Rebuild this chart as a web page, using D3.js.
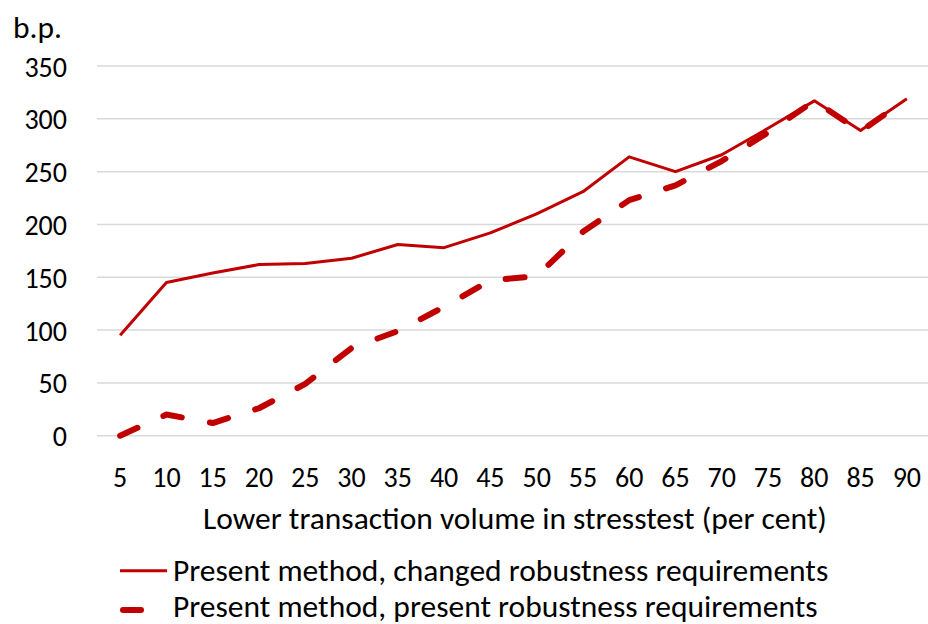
<!DOCTYPE html>
<html>
<head>
<meta charset="utf-8">
<script src="https://cdn.jsdelivr.net/npm/d3@7"></script>
<style>
  html, body { margin: 0; padding: 0; background: #fff; }
  svg { display: block; }
  text { font-family: Carlito, Calibri, Lato, "Open Sans", sans-serif; fill: #000; }
</style>
</head>
<body>
<svg id="chart" width="928" height="624"></svg>
<script>
// Lower transaction volume in the stress test (per cent)
const categories = ["5","10","15","20","25","30","35","40","45","50","55","60","65","70","75","80","85","90"];
// Basis points, present method with changed robustness requirements
const changedRobustness = [95,145,154,162,163,168,181,178,192,210,231,264,250,266,291,317,289,319];
// Basis points, present method with present robustness requirements
const presentRobustness = [0,20,12,26,49,83,99,122,147,151,193,223,237,260,287,317,288,319];
const yTicks = [0,50,100,150,200,250,300,350];

const seriesNames = [
  "Present method, changed robustness requirements",
  "Present method, present robustness requirements"
];

const W = 928, H = 624;
const red = "#C00000";
const numSize = 28;   // tick numbers
const textSize = 31.5; // titles and legend

const svg = d3.select("#chart");

const x = d3.scaleBand().domain(categories).range([97, 930]).padding(0);
const y = d3.scaleLinear().domain([0, 350]).range([435.7, 66]);

// horizontal gridlines
svg.append("g")
  .selectAll("line")
  .data(yTicks)
  .join("line")
  .attr("x1", 97).attr("x2", W)
  .attr("y1", d => y(d)).attr("y2", d => y(d))
  .attr("stroke", "#d9d9d9")
  .attr("stroke-width", 1.5);

// y axis labels
const yAxis = d3.axisLeft(y).tickValues(yTicks).tickSize(0).tickPadding(0);
svg.append("g")
  .attr("transform", "translate(67,0)")
  .call(yAxis)
  .call(g => g.select(".domain").remove())
  .call(g => g.selectAll("text")
    .attr("font-size", numSize)
    .attr("font-family", null)
    .attr("fill", "#000")
    .attr("dy", "0.36em"));

// x axis labels
const xAxis = d3.axisBottom(x).tickSize(0).tickPadding(0);
svg.append("g")
  .attr("transform", "translate(0,487)")
  .call(xAxis)
  .call(g => g.select(".domain").remove())
  .call(g => g.selectAll("text")
    .attr("font-size", numSize)
    .attr("font-family", null)
    .attr("fill", "#000")
    .attr("dy", 0)
    .attr("y", 0));

// unit label
svg.append("text")
  .attr("x", 13).attr("y", 38)
  .attr("font-size", textSize)
  .text("b.p.");

// axis title
svg.append("text")
  .attr("x", 515).attr("y", 529)
  .attr("text-anchor", "middle")
  .attr("font-size", textSize)
  .text("Lower transaction volume in stresstest (per cent)");

const line = d3.line()
  .x((d, i) => x(categories[i]) + x.bandwidth() / 2)
  .y(d => y(d));

svg.append("path")
  .datum(presentRobustness)
  .attr("d", line)
  .attr("fill", "none")
  .attr("stroke", red)
  .attr("stroke-width", 6)
  .attr("stroke-linecap", "round")
  .attr("stroke-linejoin", "round")
  .attr("stroke-dasharray", "19,28.5");

svg.append("path")
  .datum(changedRobustness)
  .attr("d", line)
  .attr("fill", "none")
  .attr("stroke", red)
  .attr("stroke-width", 3)
  .attr("stroke-linejoin", "round");

// legend
const legend = svg.append("g");
legend.append("line")
  .attr("x1", 120).attr("x2", 167)
  .attr("y1", 570.7).attr("y2", 570.7)
  .attr("stroke", red).attr("stroke-width", 3);
legend.append("text")
  .attr("x", 173).attr("y", 581)
  .attr("font-size", textSize)
  .text(seriesNames[0]);

legend.append("line")
  .attr("x1", 123).attr("x2", 141)
  .attr("y1", 610).attr("y2", 610)
  .attr("stroke", red).attr("stroke-width", 6)
  .attr("stroke-linecap", "round");
legend.append("text")
  .attr("x", 173).attr("y", 616.5)
  .attr("font-size", textSize)
  .text(seriesNames[1]);
</script>
</body>
</html>
